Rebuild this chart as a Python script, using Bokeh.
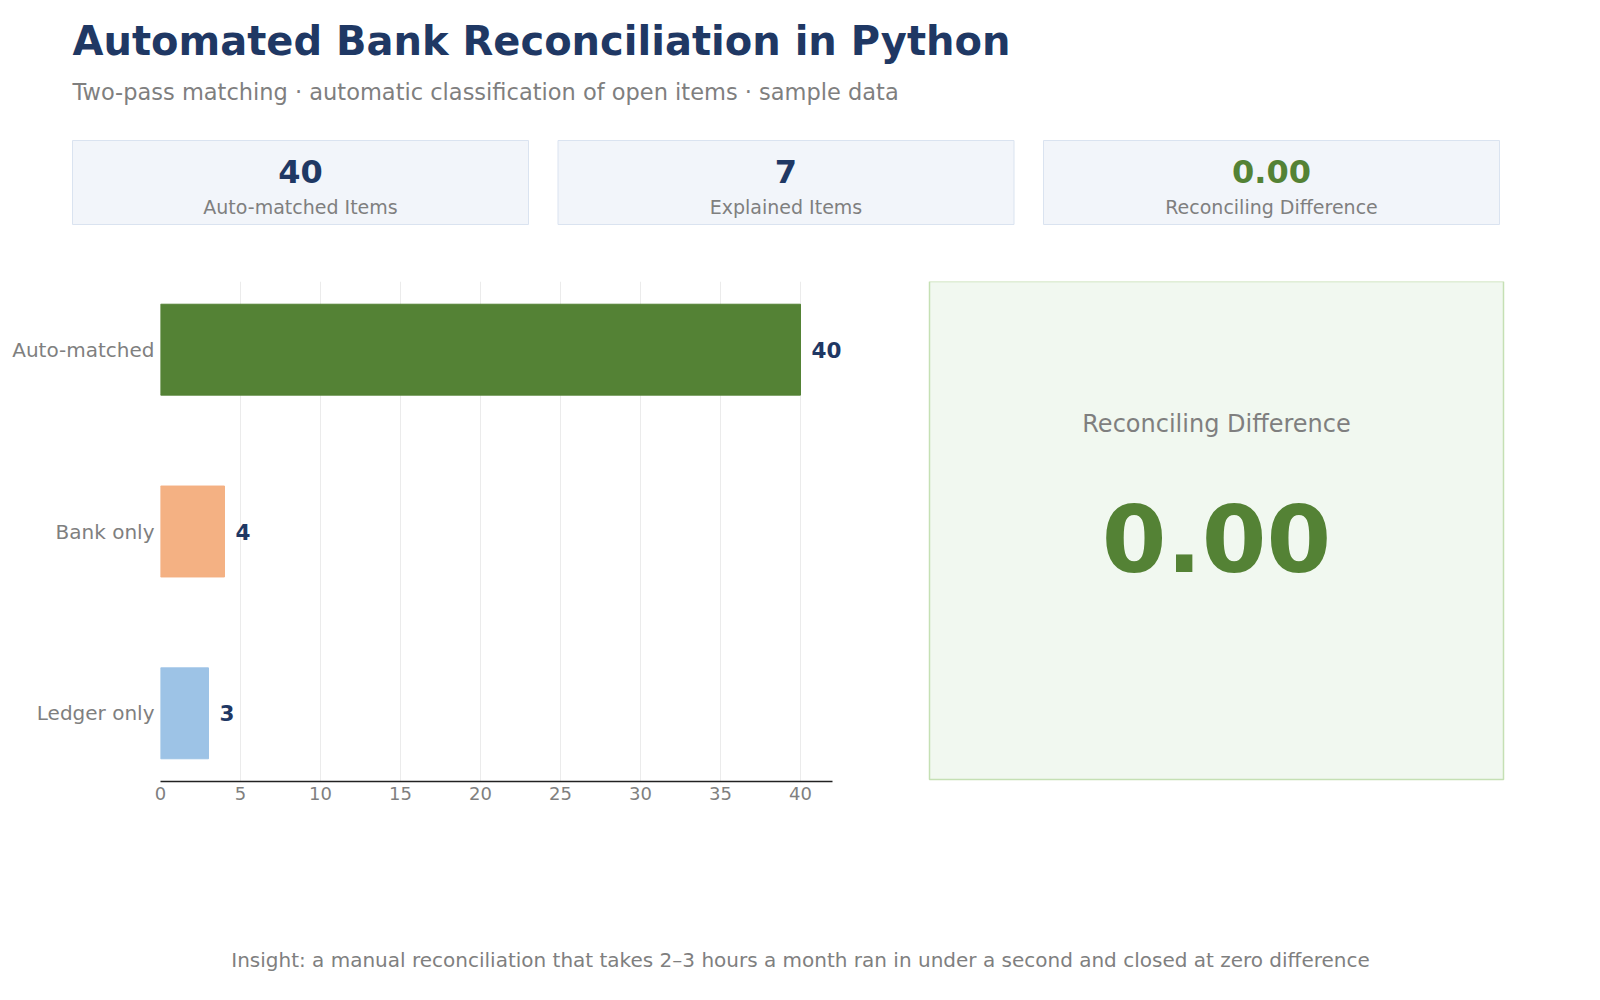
from bokeh.core.properties import value
from bokeh.embed import file_html
from bokeh.layouts import column, row
from bokeh.models import ColumnDataSource, FactorRange, FixedTicker, LabelSet, Range1d
from bokeh.plotting import figure
from bokeh.resources import INLINE

# data
categories = ["Auto-matched", "Bank only", "Ledger only"]
counts = [40, 4, 3]
bar_colors = ["#548235", "#f4b183", "#9dc3e6"]
kpi_values = ["40", "7", "0.00"]
kpi_labels = ["Auto-matched Items", "Explained Items", "Reconciling Difference"]
reconciling_difference = 0.00
x_ticks = [0, 5, 10, 15, 20, 25, 30, 35, 40]

title = "Automated Bank Reconciliation in Python"
subtitle = "Two-pass matching · automatic classification of open items · sample data"
footer = ("Insight: a manual reconciliation that takes 2–3 hours a month ran in "
          "under a second and closed at zero difference")

NAVY = "#1f3864"
GREEN = "#548235"
GREY = "#7f7f7f"
FONT = value("DejaVu Sans")


def canvas(width, height, x0, x1, y0, y1, top=0, bottom=0):
    # blank figure whose data units are page pixels (y grows downwards)
    p = figure(width=width, height=height, x_range=Range1d(x0, x1),
               y_range=Range1d(y1, y0), toolbar_location=None,
               output_backend="svg", x_axis_location=None,
               y_axis_location=None, min_border=0,
               min_border_top=top, min_border_bottom=bottom)
    p.grid.visible = False
    p.outline_line_color = None
    return p


# header: title, subtitle, KPI cards
head = canvas(1584, 260, 0, 1584, 0, 260)
head.text(x=[72], y=[40], text=[title], text_font=FONT, text_font_style="bold",
          text_font_size="40px", text_color=NAVY, text_baseline="middle")
head.text(x=[72], y=[91.5], text=[subtitle], text_font=FONT,
          text_font_size="22.5px", text_color=GREY, text_baseline="middle")

card_left = [72 + i * 485.5 for i in range(len(kpi_values))]
card_mid = [x + 228 for x in card_left]
head.quad(left=card_left, right=[x + 456 for x in card_left], top=140, bottom=224,
          fill_color="#f2f5fa", line_color="#dae3f0", line_width=1)
head.text(x=card_mid, y=170.5, text=kpi_values, text_font=FONT,
          text_font_style="bold", text_font_size="32px",
          text_color=[NAVY, NAVY, GREEN], text_align="center",
          text_baseline="middle")
head.text(x=card_mid, y=206.5, text=kpi_labels, text_font=FONT,
          text_font_size="19px", text_color=GREY, text_align="center",
          text_baseline="middle")

# bar chart
src = ColumnDataSource(data=dict(cat=categories, count=counts, color=bar_colors,
                                 label=[str(c) for c in counts]))
bars = figure(width=880, height=560,
              y_range=FactorRange(factors=categories[::-1], range_padding=-0.125,
                                  range_padding_units="absolute"),
              x_range=Range1d(0, 45), toolbar_location=None, output_backend="svg",
              min_border_left=160, min_border_right=0, min_border_top=21,
              min_border_bottom=39)
bars.hbar(y="cat", left=0, right="count", height=0.5, color="color", source=src)
bars.add_layout(LabelSet(x="count", y="cat", text="label", source=src, x_offset=11,
                         text_font=FONT, text_font_style="bold",
                         text_font_size="21.5px", text_color=NAVY,
                         text_baseline="middle"))
bars.outline_line_color = None
bars.ygrid.grid_line_color = None
bars.xgrid.grid_line_color = "#ebebeb"
bars.xaxis.ticker = FixedTicker(ticks=x_ticks)
bars.xaxis.bounds = (0, 42)
bars.xaxis.axis_line_color = "#222222"
bars.xaxis.axis_line_width = 1.3
bars.axis.major_tick_line_color = None
bars.axis.minor_tick_line_color = None
bars.axis.major_tick_out = 0
bars.axis.major_label_text_color = GREY
bars.axis.major_label_text_font = "DejaVu Sans"
bars.xaxis.major_label_text_font_size = "18px"
bars.xaxis.major_label_standoff = 5
bars.yaxis.major_label_text_font_size = "20px"
bars.yaxis.major_label_standoff = 6
bars.yaxis.axis_line_color = None

# reconciling difference panel (frame aligned with the bar chart frame)
panel = canvas(704, 560, 880, 1584, 281, 781, top=21, bottom=39)
panel.quad(left=[929], right=[1503], top=[281], bottom=[779],
           fill_color="#f1f8f0", line_color="#c5e0b4", line_width=1.5)
panel.text(x=[1216], y=[423], text=["Reconciling Difference"], text_font=FONT,
           text_font_size="24px", text_color=GREY, text_align="center",
           text_baseline="middle")
panel.text(x=[1216], y=[537], text=[f"{reconciling_difference:.2f}"],
           text_font=FONT, text_font_style="bold", text_font_size="93px",
           text_color=GREEN, text_align="center", text_baseline="middle")

# footer
foot = canvas(1584, 164, 0, 1584, 820, 984)
foot.text(x=[800], y=[959], text=[footer], text_font=FONT, text_font_size="20px",
          text_color=GREY, text_align="center", text_baseline="middle")

page = column(head, row(bars, panel), foot)
open("out.html", "w").write(file_html(page, INLINE))
